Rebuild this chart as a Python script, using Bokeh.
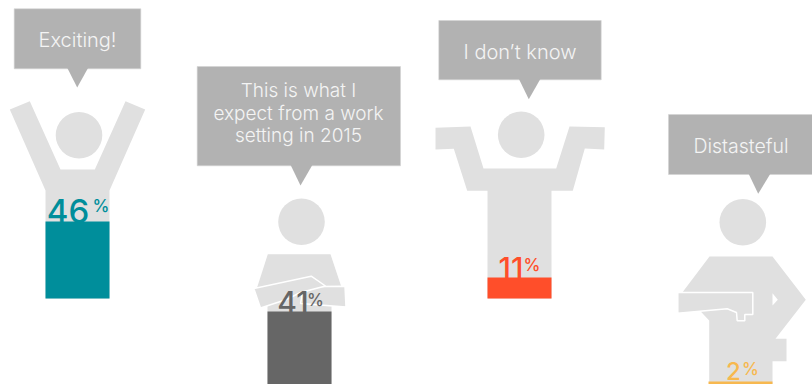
from bokeh.plotting import figure
from bokeh.models import Range1d
from bokeh.embed import file_html
from bokeh.resources import INLINE
from bokeh.core.properties import value as bk_value

# Survey answers, one per figure
answers = ["Exciting!", "This is what I\nexpect from a work\nsetting in 2015", "I don\u2019t know", "Distasteful"]
shares = [46, 41, 11, 2]
fill_colors = ["#008e9b", "#666666", "#ff4e2a", "#f7b84f"]

BODY = "#e0e0e0"
BUBBLE = "#b2b2b2"
LABEL_FONT = "Inter Medium"
BUBBLE_FONT = "Inter Light"

# Layout of each figure in page pixels
bar_left = [45, 267, 487, 708]
bar_right = [109, 331, 551, 772]
bar_base = [298, 384, 298, 384]
px_per_point = [1.674, 1.78, 1.9, 1.5]
label_x = [67.5, 292.5, 510.5, 733]
label_y = [210, 301.5, 267.5, 370]
pct_x = [100.5, 315, 531.5, 750]
pct_y = [205, 299, 264, 368]
label_size = [33, 30, 30, 24]
bubble_size = [20, 19, 20, 19.5]

bubble_box = [(13.7, 140.3, 8.3, 68.3), (196.7, 400, 66, 165.3),
              (438.3, 600.7, 20, 79.3), (668, 812, 114, 174)]
bubble_tip = [(66.7, 87.7, 76.7, 87), (290, 312, 300, 185),
              (518.3, 540, 528.3, 98.7), (748, 770, 757.7, 193.3)]
bubble_text_x = [77, 298, 519.5, 740.5]
bubble_text_y = [[39], [90, 112.5, 135], [51], [145]]
heads = [(78.5, 134.7), (301, 221.3), (520.7, 134.3), (742.3, 221.7)]

p = figure(width=812, height=384, output_backend="svg", toolbar_location=None,
           x_range=Range1d(0, 812), y_range=Range1d(384, 0), min_border=0,
           outline_line_color=None, background_fill_color="white", border_fill_color="white")
p.axis.visible = False
p.grid.visible = False


def shape(xs, ys, fill=BODY, line=None, width=1.5):
    p.patch(xs, ys, fill_color=fill, line_color=line, line_width=width)


# Silhouettes: raised arms, crossed arms, shrug, arm across the chest
shape([9.3, 29.3, 60, 94.3, 125, 144.7, 109, 109, 45, 45],
      [109, 100.7, 169, 169, 100.7, 109, 190, 298, 298, 190])

shape([267.3, 330, 341, 331, 331, 267, 267, 256.7],
      [253.7, 253.7, 286.7, 300, 384, 384, 300, 286.7])
shape([302, 318, 344.5, 345.5, 300],
      [292, 286, 285.7, 306.5, 303], line="white")
shape([253.3, 310.7, 325, 300, 286, 260],
      [288, 275.7, 285.5, 292, 299, 307.5], line="white")

shape([435, 470, 483, 555.7, 569, 604.3, 603.7, 584.3, 572.3, 551, 551, 487, 487, 466.7, 453.3, 435],
      [127.3, 126, 168, 168, 126, 126.7, 149, 148, 190.3, 190.3, 298, 298, 190.3, 190.3, 148.3, 149])

shape([709, 772, 805.3, 775, 786, 786, 772, 772, 708.7, 708.7, 682],
      [256, 256, 299.3, 338.3, 338.3, 360.7, 360.7, 384, 384, 320, 291.7])
shape([772, 777.3, 772], [292.7, 299.3, 305], fill="white")
shape([677.3, 752.3, 752.3, 744.3, 744.3, 736.7, 736, 726.7, 677.3],
      [292, 292, 314, 314, 320.3, 320.3, 312, 308.3, 312.7], line="white")

p.circle([h[0] for h in heads], [h[1] for h in heads], radius=23.3,
         fill_color=BODY, line_color=None)

# Percent labels sit behind the fills, which trim the base of the digits
for i, share in enumerate(shares):
    p.text([label_x[i]], [label_y[i]], text=[str(share)], text_color=fill_colors[i],
           text_font=bk_value(LABEL_FONT), text_font_size=f"{label_size[i]}px",
           text_baseline="middle", text_align="center")
    p.text([pct_x[i]], [pct_y[i]], text=["%"], text_color=fill_colors[i],
           text_font=bk_value(LABEL_FONT), text_font_size="17px",
           text_baseline="middle", text_align="center")

# Each fill has its own value scale, anchored at the figure's feet
for i, share in enumerate(shares):
    name = f"fill{i}"
    p.extra_y_ranges[name] = Range1d(start=(bar_base[i] - 384) / px_per_point[i],
                                     end=bar_base[i] / px_per_point[i])
    p.quad(left=[bar_left[i]], right=[bar_right[i]], bottom=[0], top=[share],
           fill_color=fill_colors[i], line_color=None, y_range_name=name)

# Speech bubbles
for i, answer in enumerate(answers):
    x0, x1, y0, y1 = bubble_box[i]
    t0, t1, tx, ty = bubble_tip[i]
    p.quad(left=[x0], right=[x1], top=[y0], bottom=[y1], fill_color=BUBBLE,
           line_color="#d4d4d4", line_width=0.6)
    p.patch([t0, t1, tx], [y1 - 1, y1 - 1, ty], fill_color=BUBBLE, line_color=None)
    for line, y in zip(answer.split("\n"), bubble_text_y[i]):
        p.text([bubble_text_x[i]], [y], text=[line], text_color="#f4f4f4",
               text_font=bk_value(BUBBLE_FONT), text_font_size=f"{bubble_size[i]}px",
               text_align="center", text_baseline="middle")

open("out.html", "w").write(file_html(p, INLINE))
